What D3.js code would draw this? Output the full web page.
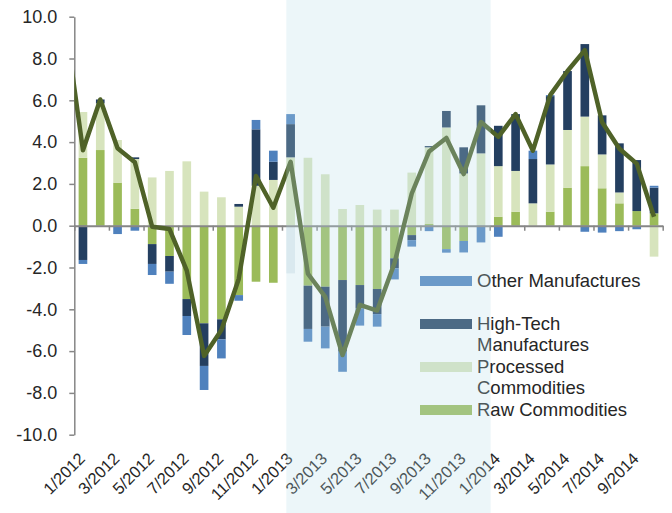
<!DOCTYPE html>
<html>
<head>
<meta charset="utf-8">
<script src="https://cdn.jsdelivr.net/npm/d3@7"></script>
<style>
  body { margin: 0; background: #fff; }
  text { font-family: "Liberation Sans", Arial, sans-serif; fill: #262626; }
</style>
</head>
<body>
<div class="graph"></div>
<script>
// months on the x axis
var months = ["1/2012","2/2012","3/2012","4/2012","5/2012","6/2012","7/2012","8/2012","9/2012","10/2012","11/2012","12/2012",
  "1/2013","2/2013","3/2013","4/2013","5/2013","6/2013","7/2013","8/2013","9/2013","10/2013","11/2013","12/2013",
  "1/2014","2/2014","3/2014","4/2014","5/2014","6/2014","7/2014","8/2014","9/2014","10/2014"];

// contributions (percentage points)
var rawCommodities = [3.25, 3.62, 2.06, 0.81, -0.88, -1.45, -3.51, -4.67, -4.48, -3.32, -2.68, -2.73,
  -2.28, -2.87, -2.92, -2.60, -2.84, -3.03, -1.56, -0.45, 0.08, -1.12, -0.73, 0,
  0.43, 0.67, 0, 0.67, 1.82, 2.85, 1.79, 1.07, 0.70, 0.59];
var processedCommodities = [2.19, 2.23, 2.04, 2.38, 2.31, 2.62, 3.08, 1.63, 1.36, 0.91, 1.91, 2.19,
  3.27, 3.25, 2.46, 0.80, 0.99, 0.77, 0.77, 2.54, 3.67, 4.70, 2.50, 3.46,
  2.42, 1.95, 1.07, 2.26, 2.76, 2.37, 1.62, 0.52, -0.05, -1.48];
var highTechManufactures = [-1.64, 0.19, 0, 0.08, -0.95, -0.75, -0.81, -2.04, -0.96, 0.13, 2.70, 0.87,
  1.59, -2.07, -1.91, -3.43, -1.12, -1.20, -0.48, -0.24, 0.06, 0.79, 1.25, 2.30,
  1.93, 2.72, 2.12, 3.27, 2.82, 3.47, 1.87, 2.35, 2.44, 1.23];
var otherManufactures = [-0.19, 0, -0.40, -0.24, -0.53, -0.58, -0.91, -1.15, -0.91, -0.27, 0.45, 0.53,
  0.48, -0.61, -1.04, -0.96, -0.82, -0.60, -0.53, -0.31, -0.26, -0.17, -0.55, -0.80,
  -0.53, 0, 0.40, 0.05, 0, -0.29, -0.33, -0.26, -0.12, 0.09];

// total of the month before the first one (the line comes in from outside the plot)
var totalDec2011 = 9.6;

var yTicks = [-10, -8, -6, -4, -2, 0, 2, 4, 6, 8, 10];
var xLabels = ["1/2012","3/2012","5/2012","7/2012","9/2012","11/2012","1/2013","3/2013","5/2013","7/2013","9/2013","11/2013",
  "1/2014","3/2014","5/2014","7/2014","9/2014"];
var shadeFrom = "1/2013", shadeTo = "1/2014";

var series = [
  {key: "raw", name: "Raw Commodities", values: rawCommodities, color: "#9bbb59"},
  {key: "proc", name: "Processed Commodities", values: processedCommodities, color: "#d7e4bd"},
  {key: "tech", name: "High-Tech Manufactures", values: highTechManufactures, color: "#243f60"},
  {key: "other", name: "Other Manufactures", values: otherManufactures, color: "#4f81bd"}
];

var table = months.map(function(m, i) {
  var row = {month: m};
  series.forEach(function(s) { row[s.key] = s.values[i]; });
  return row;
});

var W = 672, H = 513;
var plot = {left: 74.3, right: 662.7, top: 16.7, bottom: 434.7};

var svg = d3.select(".graph").append("svg")
  .attr("width", W).attr("height", H);

var x = d3.scaleBand().domain(months).range([plot.left, plot.right])
  .paddingInner(0.5).paddingOuter(0.25);
var step = x.step();
var edge = d3.scaleLinear().domain([0, months.length]).range([plot.left, plot.right]);
var y = d3.scaleLinear().domain([-10, 10]).range([plot.bottom, plot.top]);

// stacked bars, positives up and negatives down like excel does it
var stack = d3.stack().keys(series.map(function(s) { return s.key; }))
  .offset(d3.stackOffsetDiverging);
var layers = stack(table);

svg.append("g").selectAll("g")
  .data(layers)
  .join("g")
  .attr("fill", function(d, i) { return series[i].color; })
  .selectAll("rect")
  .data(function(d) { return d.map(function(p) { p.key = d.key; return p; }); })
  .join("rect")
  .attr("x", function(d) { return x(d.data.month); })
  .attr("width", x.bandwidth())
  .attr("y", function(d) { return y(Math.max(d[0], d[1])); })
  .attr("height", function(d) { return Math.abs(y(d[0]) - y(d[1])); })
  // this one bar is filled pale in the original
  .attr("fill", function(d) { return (d.key == "raw" && d.data.month == "1/2013") ? "#e6eef1" : null; });

// y axis
var yAxis = svg.append("g")
  .attr("transform", "translate(" + plot.left + ",0)")
  .call(d3.axisLeft(y).tickValues(yTicks).tickSize(5).tickSizeOuter(0).tickPadding(12)
    .tickFormat(function(d) { return d.toFixed(1); }));
yAxis.select(".domain").attr("stroke", "#868686").attr("stroke-width", 1.5);
yAxis.selectAll(".tick line").attr("stroke", "#868686").attr("stroke-width", 1.5);
yAxis.selectAll("text").style("font-size", "18px").attr("fill", "#262626");

// x axis sits on zero, ticks every two months
var xAxis = svg.append("g")
  .attr("transform", "translate(0," + y(0) + ")")
  .call(d3.axisBottom(edge).tickValues(d3.range(0, months.length + 1, 2)).tickSize(5).tickSizeOuter(0)
    .tickFormat(""));
xAxis.select(".domain").attr("stroke", "#868686").attr("stroke-width", 2);
xAxis.selectAll(".tick line").attr("stroke", "#868686").attr("stroke-width", 1.5);

// month labels at the bottom, slanted
svg.append("g").selectAll("text")
  .data(xLabels)
  .join("text")
  .attr("transform", function(d) {
    return "translate(" + (x(d) + x.bandwidth() / 2 + 3) + "," + (plot.bottom + 25) + ") rotate(-45)";
  })
  .attr("text-anchor", "end")
  .style("font-size", "16.5px")
  .text(function(d) { return d; });

// total line
var totals = table.map(function(r) {
  return {pos: x(r.month) + x.bandwidth() / 2, v: r.raw + r.proc + r.tech + r.other};
});
totals.unshift({pos: x(months[0]) + x.bandwidth() / 2 - step, v: totalDec2011});

svg.append("clipPath").attr("id", "plotclip")
  .append("rect").attr("x", plot.left).attr("y", 0).attr("width", plot.right - plot.left + 10).attr("height", H);

svg.append("path")
  .datum(totals)
  .attr("clip-path", "url(#plotclip)")
  .attr("fill", "none")
  .attr("stroke", "#4f6228")
  .attr("stroke-width", 4.5)
  .attr("stroke-linejoin", "round")
  .attr("d", d3.line()
    .x(function(d) { return d.pos; })
    .y(function(d) { return y(d.v); }));

// legend
var legendRows = [
  {s: series[3], lines: ["Other Manufactures"], y: 281},
  {s: series[2], lines: ["High-Tech", "Manufactures"], y: 324},
  {s: series[1], lines: ["Processed", "Commodities"], y: 367},
  {s: series[0], lines: ["Raw Commodities"], y: 410}
];
var lg = svg.append("g").selectAll("g").data(legendRows).join("g");
lg.append("rect")
  .attr("x", 420).attr("width", 52)
  .attr("y", function(d) { return d.y - 5; }).attr("height", 10)
  .attr("fill", function(d) { return d.s.color; });
lg.each(function(d) {
  var t = d3.select(this).append("text")
    .attr("x", 477).attr("y", d.y + 6)
    .style("font-size", "18.5px");
  d.lines.forEach(function(l, i) {
    t.append("tspan").attr("x", 477).attr("dy", i ? 21 : 0).text(l);
  });
});

// shaded period goes over everything
svg.append("rect")
  .attr("x", x(shadeFrom))
  .attr("width", edge(months.indexOf(shadeTo)) + 1 - x(shadeFrom))
  .attr("y", 0).attr("height", H)
  .attr("fill", "rgb(185,221,234)")
  .attr("fill-opacity", 0.27);
</script>
</body>
</html>
